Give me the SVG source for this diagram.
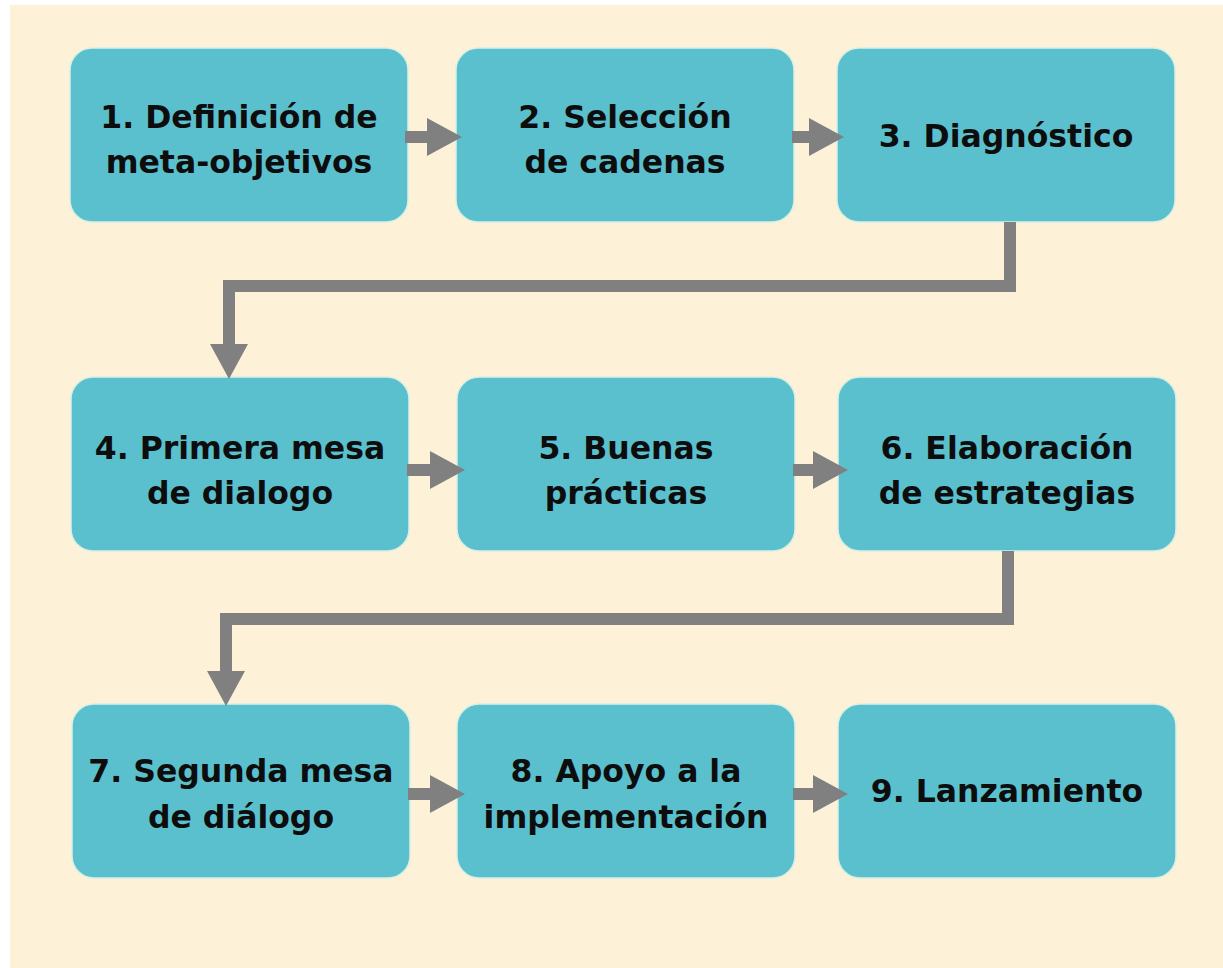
<svg xmlns="http://www.w3.org/2000/svg" width="1223" height="968" viewBox="0 0 1223 968">
<style>
.box{fill:#5bc0cd;stroke:#d9efe6;stroke-width:1.5}
.lbl{font-family:"DejaVu Sans",sans-serif;font-weight:bold;font-size:31.5px;fill:#0d0d0d;text-anchor:middle}
.con{fill:none;stroke:#808080;stroke-width:12;stroke-linejoin:miter}
</style>
<defs>
<marker id="ah" viewBox="0 0 35 38" refX="0" refY="19" markerWidth="35" markerHeight="38" markerUnits="userSpaceOnUse" orient="auto">
<path d="M0,0 L35,19 L0,38 Z" fill="#808080"/>
</marker>
</defs>
<rect x="0" y="0" width="1223" height="968" fill="#ffffff"/>
<rect x="10" y="5" width="1213" height="963" fill="#fdf1d8"/>
<g id="n1"><rect class="box" x="70" y="48" width="338" height="174" rx="22"/><text class="lbl" x="239" y="128">1. Definición de</text><text class="lbl" x="239" y="173">meta-objetivos</text></g>
<g id="n2"><rect class="box" x="456" y="48" width="338" height="174" rx="22"/><text class="lbl" x="625" y="128">2. Selección</text><text class="lbl" x="625" y="173">de cadenas</text></g>
<g id="n3"><rect class="box" x="837" y="48" width="338" height="174" rx="22"/><text class="lbl" x="1006" y="147">3. Diagnóstico</text></g>
<g id="n4"><rect class="box" x="71" y="377" width="338" height="174" rx="22"/><text class="lbl" x="240" y="459">4. Primera mesa</text><text class="lbl" x="240" y="504">de dialogo</text></g>
<g id="n5"><rect class="box" x="457" y="377" width="338" height="174" rx="22"/><text class="lbl" x="626" y="459">5. Buenas</text><text class="lbl" x="626" y="504">prácticas</text></g>
<g id="n6"><rect class="box" x="838" y="377" width="338" height="174" rx="22"/><text class="lbl" x="1007" y="459">6. Elaboración</text><text class="lbl" x="1007" y="504">de estrategias</text></g>
<g id="n7"><rect class="box" x="72" y="704" width="338" height="174" rx="22"/><text class="lbl" x="241" y="782">7. Segunda mesa</text><text class="lbl" x="241" y="828">de diálogo</text></g>
<g id="n8"><rect class="box" x="457" y="704" width="338" height="174" rx="22"/><text class="lbl" x="626" y="782">8. Apoyo a la</text><text class="lbl" x="626" y="828">implementación</text></g>
<g id="n9"><rect class="box" x="838" y="704" width="338" height="174" rx="22"/><text class="lbl" x="1007" y="802">9. Lanzamiento</text></g>
<g id="connectors">
<path class="con" d="M405,137 H427" marker-end="url(#ah)"/>
<path class="con" d="M792,137 H809" marker-end="url(#ah)"/>
<path class="con" d="M407,470 H430" marker-end="url(#ah)"/>
<path class="con" d="M793,470 H813" marker-end="url(#ah)"/>
<path class="con" d="M408,794 H430" marker-end="url(#ah)"/>
<path class="con" d="M793,794 H813" marker-end="url(#ah)"/>
<path class="con" d="M1010,222 V286 H229 V344" marker-end="url(#ah)"/>
<path class="con" d="M1008,551 V619 H226 V671" marker-end="url(#ah)"/>
</g>
</svg>
